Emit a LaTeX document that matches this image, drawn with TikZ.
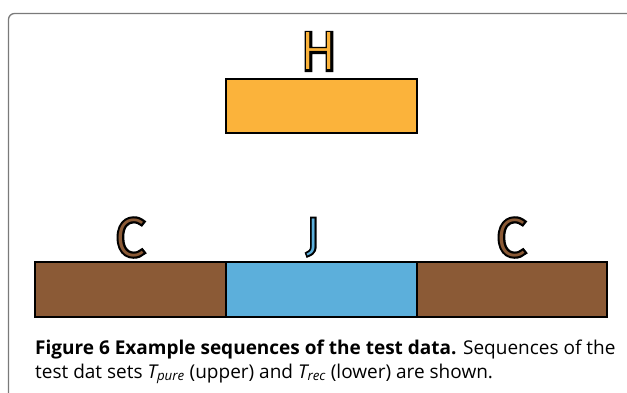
\documentclass[tikz,border=0pt]{standalone}
\usepackage{fontspec}
\setmainfont{Open Sans}
\newfontfamily\letterfont{Fira Sans Light}
\newfontfamily\letteredge[FakeBold=8]{Fira Sans Light}
\definecolor{framegray}{HTML}{7A7A7A}
\definecolor{hcol}{HTML}{FBB33B}
\definecolor{ccol}{HTML}{8B5A36}
\definecolor{jcol}{HTML}{5CAFDB}
\tikzset{
  seg/.style={draw=black, line width=2pt},
  tag/.style={inner sep=0pt, anchor=base, font=\fontsize{54}{54}\selectfont},
  smalltag/.style={tag, font=\fontsize{46}{46}\selectfont},
  caption/.style={inner sep=0pt, anchor=base west, font=\fontsize{19}{23}\selectfont}
}
% black-edged letter with a thin coloured core
\newcommand{\seqletter}[2]{{\letteredge\color{black}\rlap{#2}}{\letterfont\color{#1}#2}}
\begin{document}
\begin{tikzpicture}[x=1pt,y=-1pt]
  \useasboundingbox (0,0) rectangle (627,393);
  % panel frame
  \draw[framegray, line width=1.3pt, rounded corners=6pt] (8.5,393) -- (8.5,13.5) -- (627,13.5);
  % upper sequence
  \draw[seg, fill=hcol] (226,79) rectangle (417,133);
  \node[tag] (hl) at (319,70) {\seqletter{hcol}{H}};
  % lower sequence
  \draw[seg, fill=ccol] (35,262) rectangle (226,317);
  \draw[seg, fill=jcol] (226,262) rectangle (417,317);
  \draw[seg, fill=ccol] (417,262) rectangle (607,317);
  \node[tag] (c1) at (130,256) {\seqletter{ccol}{C}};
  \node[smalltag] (j) at (313,250) {\seqletter{jcol}{J}};
  \node[tag] (c2) at (511,256) {\seqletter{ccol}{C}};
  % caption
  \node[caption] (cap1) at (35,354) {\textbf{Figure 6 Example sequences of the test data.} Sequences of the};
  \node[caption] (cap2) at (35,378) {test dat sets \textit{T\textsubscript{pure}} (upper) and \textit{T\textsubscript{rec}} (lower) are shown.};
\end{tikzpicture}
\end{document}
